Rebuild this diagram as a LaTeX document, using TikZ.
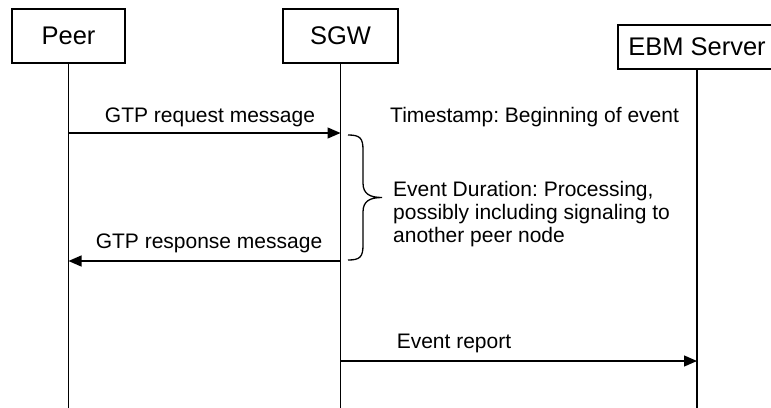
\documentclass[tikz,border=0pt]{standalone}
\usepackage{fontspec}
\setmainfont{Liberation Sans}
\usetikzlibrary{arrows.meta}
\frenchspacing
\begin{document}
\begin{tikzpicture}[x=1pt,y=-1pt,
  entity/.style={draw, line width=2.2pt, inner sep=0pt, font=\fontsize{25.5}{30}\selectfont},
  life/.style={line width=1.3pt},
  msg/.style={line width=1.3pt, -{Triangle[length=13pt,width=11pt]}},
  lbl/.style={inner sep=0pt, anchor=base, font=\fontsize{21}{24}\selectfont},
  lblw/.style={inner sep=0pt, anchor=base west, font=\fontsize{21}{24}\selectfont},
]
\useasboundingbox (0,0) rectangle (771,407);
\clip (0,0) rectangle (771,407);
% entities
\node[entity, minimum width=113pt, minimum height=54pt] (peer) at (68.5,36) {Peer};
\node[entity, minimum width=115pt, minimum height=54pt] (sgw) at (340.5,36) {SGW};
\node[entity, minimum width=158pt, minimum height=44pt] (ebm) at (697,47) {EBM Server};
% lifeline ends
\coordinate (peerbot) at (68.5,410);
\coordinate (sgwbot) at (340.5,410);
\coordinate (ebmbot) at (697,410);
\draw[life] (peer.south) -- (peerbot);
\draw[life] (sgw.south) -- (sgwbot);
\draw[life] (ebm.south) -- (ebmbot);
% message points
\coordinate (p1) at (68.5,133);
\coordinate (s1) at (340.5,133);
\coordinate (p2) at (68.5,261);
\coordinate (s2) at (340.5,261);
\coordinate (s3) at (340.5,361);
\coordinate (e3) at (697,361);
\draw[msg] (p1) -- (s1);
\draw[msg] (s2) -- (p2);
\draw[msg] (s3) -- (e3);
% labels
\node[lbl] (reqlbl) at (210,122) {GTP request message};
\node[lbl] (rsplbl) at (209,248) {GTP response message};
\node[lbl] (evlbl) at (454,348) {Event report};
\node[lblw] (ts) at (390,122) {Timestamp: Beginning of event};
\node[lblw] (dur1) at (393,196) {Event Duration: Processing,};
\node[lblw] (dur2) at (393,219) {possibly including signaling to};
\node[lblw] (dur3) at (393,242) {another peer node};
% brace
\draw[line width=1.3pt] (348,135) .. controls (360,135) and (363,138) .. (363,150)
  -- (363,183) .. controls (363,194) and (370,197.5) .. (382,197.5)
  .. controls (370,197.5) and (363,201) .. (363,212)
  -- (363,245) .. controls (363,257) and (360,260) .. (348,260);
\end{tikzpicture}
\end{document}
